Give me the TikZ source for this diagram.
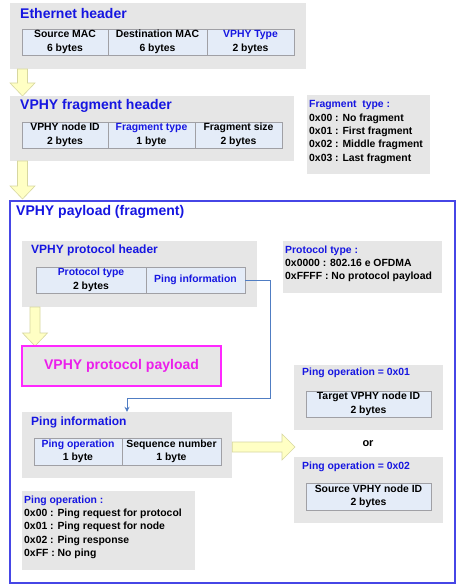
\documentclass[tikz,border=0pt]{standalone}
\usepackage{fontspec}
\setmainfont{Liberation Sans}
\usetikzlibrary{arrows.meta,calc}
\definecolor{boxgrey}{RGB}{230,230,230}
\definecolor{fieldfill}{RGB}{228,236,248}
\definecolor{fieldline}{RGB}{160,160,165}
\definecolor{titleblue}{RGB}{22,22,225}
\definecolor{frameblue}{RGB}{70,70,230}
\definecolor{pinkline}{RGB}{255,40,255}
\definecolor{pinktext}{RGB}{235,30,235}
\definecolor{arrowfill}{RGB}{255,255,196}
\definecolor{arrowline}{RGB}{215,215,160}
\definecolor{connblue}{RGB}{80,125,195}
\newcommand\bigtxt{\fontsize{14}{16}\selectfont\bfseries}
\newcommand\midtxt{\fontsize{12}{14}\selectfont\bfseries}
\newcommand\smalltxt{\fontsize{10.4}{13.4}\selectfont\bfseries}
\newcommand\yarrowdown[3]{%
  \draw[yarrow] (#1-5,#2) -- (#1+5,#2) -- (#1+5,#3-13) -- (#1+12.5,#3-13) -- (#1,#3) -- (#1-12.5,#3-13) -- (#1-5,#3-13) -- cycle;}
\tikzset{
  greybox/.style={fill=boxgrey, draw=none, inner sep=0pt},
  field/.style={fill=fieldfill, draw=fieldline, line width=0.8pt, inner sep=0pt, align=center, font=\smalltxt},
  ttl/.style={anchor=west, inner sep=0pt, text=titleblue},
  listtxt/.style={anchor=north west, inner sep=0pt, align=left, font=\smalltxt},
  yarrow/.style={fill=arrowfill, draw=arrowline, line width=0.6pt},
  conn/.style={draw=connblue, line width=0.9pt, -{Stealth[length=5pt,width=5pt]}},
}
\begin{document}
\begin{tikzpicture}[x=1pt,y=-1pt]
\useasboundingbox (0,0) rectangle (463,588);
% Ethernet header
\node[greybox, minimum width=296pt, minimum height=66pt] (eth) at (158,36) {};
\node[ttl, font=\bigtxt] (ethT) at (20,13) {Ethernet header};
\node[field, minimum width=86pt, minimum height=26pt] (src) at (65,42) {Source MAC\\6 bytes};
\node[field, minimum width=99pt, minimum height=26pt] (dst) at (157.5,42) {Destination MAC\\6 bytes};
\node[field, minimum width=87pt, minimum height=26pt] (vtype) at (250.5,42) {\textcolor{titleblue}{VPHY Type}\\2 bytes};
% arrow 1
\yarrowdown{22.5}{69}{96}
% Fragment header
\node[greybox, minimum width=284pt, minimum height=65pt] (frag) at (152,128.5) {};
\node[ttl, font=\bigtxt] (fragT) at (20,106) {VPHY fragment header};
\node[field, minimum width=86pt, minimum height=26pt] (nid) at (65,135) {VPHY node ID\\2 bytes};
\node[field, minimum width=87pt, minimum height=26pt] (ftf) at (151.5,135) {\textcolor{titleblue}{Fragment type}\\1 byte};
\node[field, minimum width=87pt, minimum height=26pt] (fsz) at (238.5,135) {Fragment size\\2 bytes};
% Fragment type list
\node[greybox, minimum width=123pt, minimum height=79pt] (ftype) at (368.5,134.5) {};
\node[listtxt] (ftypeL) at (309,100.3) {\textcolor{titleblue}{Fragment\ \ type :}\\0x00 : No fragment\\0x01 : First fragment\\0x02 : Middle fragment\\0x03 : Last fragment};
% arrow 2
\yarrowdown{22.5}{161}{199}
% payload frame
\node[draw=frameblue, line width=1.4pt, fill=white, inner sep=0pt, minimum width=445pt, minimum height=382pt] (pay) at (232.5,392) {};
\node[ttl, font=\bigtxt] (payT) at (16,212) {VPHY payload (fragment)};
% protocol header
\node[greybox, minimum width=235pt, minimum height=66pt] (phdr) at (139.5,274) {};
\node[ttl, font=\midtxt] (phdrT) at (31,250) {VPHY protocol header};
\node[field, minimum width=110pt, minimum height=26pt] (ptf) at (91,280) {\textcolor{titleblue}{Protocol type}\\2 bytes};
\node[field, minimum width=99pt, minimum height=26pt] (pingf) at (195.5,280) {\textcolor{titleblue}{Ping information}};
% protocol type list
\node[greybox, minimum width=159pt, minimum height=52pt] (ptype) at (362.5,267) {};
\node[listtxt] (ptypeL) at (285,245.3) {\textcolor{titleblue}{Protocol type :}\\0x0000 : 802.16 e OFDMA\\0xFFFF : No protocol payload};
% arrow 3
\yarrowdown{35}{307}{346}
% protocol payload
\node[fill=boxgrey, draw=pinkline, line width=1.1pt, inner sep=0pt, minimum width=199pt, minimum height=40pt, text=pinktext, font=\bigtxt] (ppay) at (121.5,366) {VPHY protocol payload};
% ping information
\node[greybox, minimum width=210pt, minimum height=66pt] (pinfo) at (127,445) {};
\node[ttl, font=\midtxt] (pinfoT) at (31,422) {Ping information};
\node[field, minimum width=88pt, minimum height=27pt] (pof) at (78,451.5) {\textcolor{titleblue}{Ping operation}\\1 byte};
\node[field, minimum width=99pt, minimum height=27pt] (seqf) at (171.5,451.5) {Sequence number\\1 byte};
% connector
\coordinate (bend) at (270,398);
\draw[conn] (pingf.east) -| (bend) -| (pinfo.north);
% ping operation list
\node[greybox, minimum width=173pt, minimum height=79pt] (pingop) at (108.5,530.5) {};
\node[listtxt] (pingopL) at (24,495.3) {\textcolor{titleblue}{Ping operation :}\\0x00 : Ping request for protocol\\0x01 : Ping request for node\\0x02 : Ping response\\0xFF : No ping};
% right arrow
\draw[yarrow] (pinfo.east |- 0,442) -- (282,442) -- (282,434) -- (295,447) -- (282,460) -- (282,452) -- (pinfo.east |- 0,452) -- cycle;
% op 01
\node[greybox, minimum width=149pt, minimum height=65pt] (op1) at (368.5,397.5) {};
\node[ttl, font=\smalltxt] (op1T) at (302,373) {Ping operation = 0x01};
\node[field, minimum width=125pt, minimum height=26pt] (tgt) at (368.5,404) {Target VPHY node ID\\2 bytes};
\node[inner sep=0pt, font=\fontsize{11}{13}\selectfont\bfseries] (or) at (368,444) {or};
% op 02
\node[greybox, minimum width=149pt, minimum height=66pt] (op2) at (368.5,490) {};
\node[ttl, font=\smalltxt] (op2T) at (302,467) {Ping operation = 0x02};
\node[field, minimum width=125pt, minimum height=27pt] (srcid) at (368.5,496.5) {Source VPHY node ID\\2 bytes};
\end{tikzpicture}
\end{document}
